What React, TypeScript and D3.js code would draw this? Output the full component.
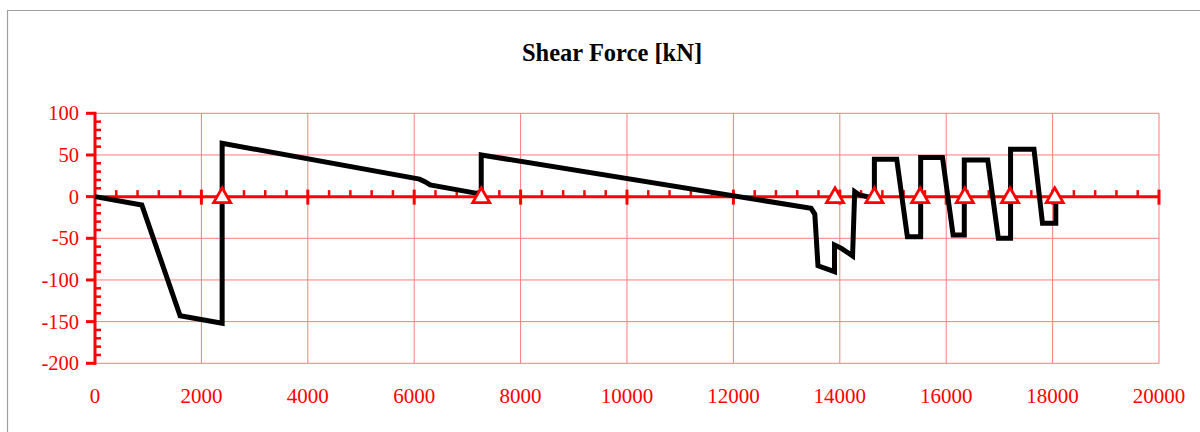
import React from 'react';
import * as d3 from 'd3';

// Data

const shearX: number[] = [
    0, 880, 1600, 2390, 2390, 6100, 6200, 6300, 7260, 7260,
    13460, 13530, 13590, 13900, 13900, 14030, 14240, 14280, 14370, 14650,
    14650, 15070, 15270, 15520, 15520, 15930, 16130, 16340, 16340, 16780,
    16980, 17210, 17210, 17650, 17810, 18060, 18060,
];
const shearY: number[] = [
    0, -10, -143, -152, 64, 21, 18, 14, 3, 50,
    -14, -21, -83, -90, -58, -62, -71, 6, 2, -2,
    45, 45, -48, -48, 47, 47, -46, -46, 44, 44,
    -50, -50, 57, 57, -32, -32, 0,
];

const supportX: number[] = [2390, 7260, 13910, 14650, 15510, 16350, 17200, 18040];

const xTicks: number[] = [0, 2000, 4000, 6000, 8000, 10000, 12000, 14000, 16000, 18000, 20000];
const yTicks: number[] = [100, 50, 0, -50, -100, -150, -200];

const title = 'Shear Force [kN]';

const W = 1200;
const H = 432;
const left = 95;
const right = 1159;
const top = 113.3;
const bottom = 363.3;

const RED = '#ff0000';
const GRID = '#ff7c7c';
const FONT = '"Liberation Serif", "Times New Roman", serif';

function ShearChart() {
    const x = d3.scaleLinear().domain([0, 20000]).range([left, right]);
    const y = d3.scaleLinear().domain([-200, 100]).range([bottom, top]);

    const pts: [number, number][] = shearX.map((v, i) => [v, shearY[i]]);
    const line = d3.line<[number, number]>().x((d) => x(d[0])).y((d) => y(d[1]));

    const tri = d3.symbol().type(d3.symbolTriangle).size(125)();

    const xMinor = d3.range(400, 20000, 400).filter((v) => v % 2000 !== 0);
    const yMinor = d3.range(-200, 100, 10).filter((v) => v % 50 !== 0);
    const y0 = y(0);

    return (
        <svg width={W} height={H} style={{ display: 'block', background: '#fff' }}>
            {/* outer frame */}
            <path d={`M7.5,${H} V10.5 H${W}`} fill="none" stroke="#a0a0a0" strokeWidth={1.2} />

            <text x={612} y={61} textAnchor="middle" fontFamily={FONT} fontWeight="bold" fontSize={24.5} fill="#000">
                {title}
            </text>

            {/* grid */}
            <g stroke={GRID} strokeWidth={1} fill="none">
                {xTicks.slice(1).map((t) => (
                    <line key={'gx' + t} x1={x(t)} x2={x(t)} y1={top} y2={bottom} />
                ))}
                {yTicks.map((t) => (
                    <line key={'gy' + t} x1={left} x2={right} y1={y(t)} y2={y(t)} />
                ))}
            </g>

            {/* y axis */}
            <g stroke={RED} strokeWidth={3}>
                <line x1={left} x2={left} y1={top - 1.5} y2={bottom + 1.5} />
                {yTicks.map((t) => (
                    <line key={'yt' + t} x1={left - 9} x2={left} y1={y(t)} y2={y(t)} />
                ))}
                {yMinor.map((t) => (
                    <line key={'ym' + t} x1={left} x2={left + 6} y1={y(t)} y2={y(t)} strokeWidth={2.5} />
                ))}
            </g>
            <g fontFamily={FONT} fontSize={20.5} fill={RED} textAnchor="end">
                {yTicks.map((t) => (
                    <text key={'yl' + t} x={79} y={y(t)} dy="0.35em">{t}</text>
                ))}
            </g>

            {/* x axis at zero */}
            <g stroke={RED} strokeWidth={3}>
                <line x1={left} x2={right} y1={y0} y2={y0} />
                {xTicks.slice(1).map((t) => (
                    <line key={'xt' + t} x1={x(t)} x2={x(t)} y1={y0 - 7} y2={y0 + 8} />
                ))}
                {xMinor.map((t) => (
                    <line key={'xm' + t} x1={x(t)} x2={x(t)} y1={y0 - 6.5} y2={y0} strokeWidth={2.5} />
                ))}
            </g>
            <g fontFamily={FONT} fontSize={21} fill={RED} textAnchor="middle">
                {xTicks.map((t) => (
                    <text key={'xl' + t} x={x(t)} y={403}>{t}</text>
                ))}
            </g>

            {/* shear force */}
            <path d={line(pts) ?? ''} fill="none" stroke="#000" strokeWidth={5} strokeLinejoin="miter" strokeMiterlimit={4} />

            {/* supports */}
            <g fill="#fff" stroke={RED} strokeWidth={2.8}>
                {supportX.map((s) => (
                    <path key={'s' + s} d={tri ?? ''} transform={`translate(${x(s)},${y0 + 1})`} />
                ))}
            </g>
        </svg>
    );
}

export default function App() {
    React.useEffect(() => {
        document.body.style.margin = '0';
    }, []);
    return <ShearChart />;
}
